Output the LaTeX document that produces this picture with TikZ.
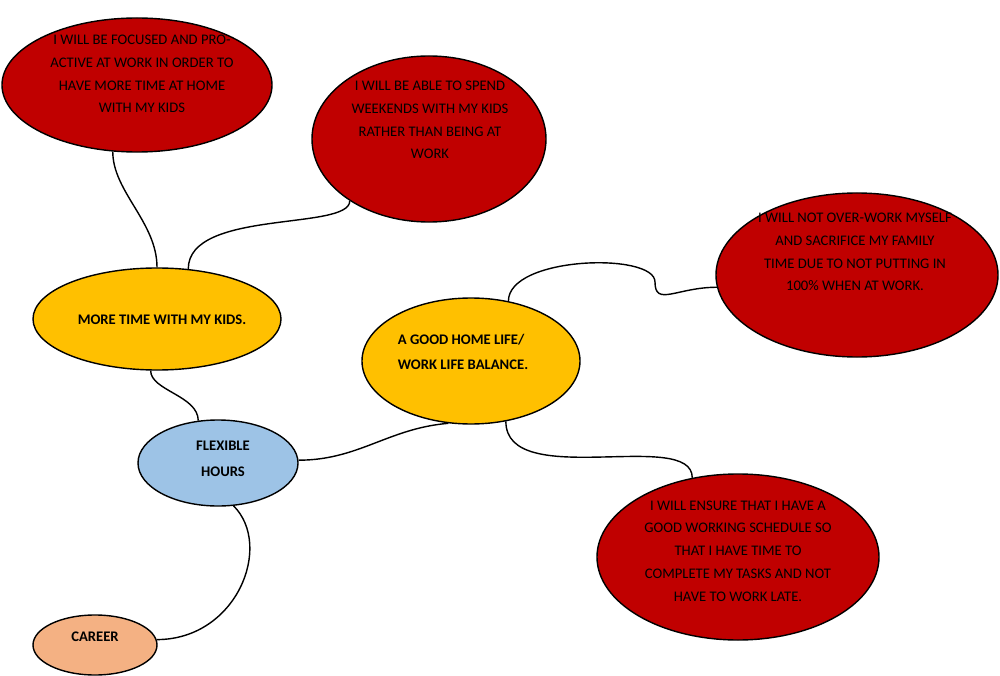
\documentclass[tikz,border=0pt]{standalone}
\usepackage{fontspec}
\setmainfont{Carlito}
\usetikzlibrary{shapes.geometric}
\definecolor{cred}{HTML}{C00000}
\definecolor{cyel}{HTML}{FFC000}
\definecolor{cblue}{HTML}{9DC3E6}
\definecolor{corg}{HTML}{F4B183}
\begin{document}
\begin{tikzpicture}[x=0.03cm,y=-0.03cm,
  bub/.style={ellipse,draw=black,line width=1.2pt,inner sep=0pt},
  txt/.style={align=center,font=\fontsize{12.5}{19.5}\selectfont},
  btxt/.style={align=center,font=\bfseries\fontsize{12.5}{22}\selectfont},
  link/.style={line width=1.2pt}]
\useasboundingbox (0,0) rectangle (1000,676);
\node[bub,fill=cred,minimum width=270\pgflinewidth/1.2pt*0+8.1cm,minimum height=4.02cm] (e1) at (137,85) {};
\node[bub,fill=cred,minimum width=7.02cm,minimum height=4.98cm] (e2) at (429,139) {};
\node[bub,fill=cred,minimum width=8.46cm,minimum height=4.92cm] (e3) at (857,275) {};
\node[bub,fill=cred,minimum width=8.46cm,minimum height=4.98cm] (e4) at (738,557) {};
\node[bub,fill=cyel,minimum width=7.44cm,minimum height=3.06cm] (y1) at (157,319) {};
\node[bub,fill=cyel,minimum width=6.54cm,minimum height=3.78cm] (y2) at (471,361) {};
\node[bub,fill=cblue,minimum width=4.8cm,minimum height=2.58cm] (b) at (218,463) {};
\node[bub,fill=corg,minimum width=3.72cm,minimum height=1.8cm] (c) at (95,645) {};

\node[txt] (t1) at (142,74) {I WILL BE FOCUSED AND PRO-\\ACTIVE AT WORK IN ORDER TO\\HAVE MORE TIME AT HOME\\WITH MY KIDS};
\node[txt] (t2) at (430,120) {I WILL BE ABLE TO SPEND\\WEEKENDS WITH MY KIDS\\RATHER THAN BEING AT\\WORK};
\node[txt] (t3) at (855,252) {I WILL NOT OVER-WORK MYSELF\\AND SACRIFICE MY FAMILY\\TIME DUE TO NOT PUTTING IN\\100\% WHEN AT WORK.};
\node[txt] (t4) at (738,551) {I WILL ENSURE THAT I HAVE A\\GOOD WORKING SCHEDULE SO\\THAT I HAVE TIME TO\\COMPLETE MY TASKS AND NOT\\HAVE TO WORK LATE.};
\node[btxt] (ty1) at (162,320) {MORE TIME WITH MY KIDS.};
\node[btxt,align=left] (ty2) at (463,352) {A GOOD HOME LIFE/\\WORK LIFE BALANCE.};
\node[btxt] (tb) at (223,459) {FLEXIBLE\\HOURS};
\node[btxt] (tc) at (95,637) {CAREER};

\draw[link] (e1.250) .. controls +(0,40) and +(0,-45) .. (y1.90);
\draw[link] (y1.58) .. controls +(0,-60) and +(0,30) .. (e2.218);
\draw[link] (y1.263) .. controls +(0,20) and +(0,-25) .. (b.115);
\draw[link] (b.2) .. controls +(60,0) and +(-60,5) .. (y2.250);
\draw[link] (b.290) .. controls +(40,40) and +(80,0) .. (c.5);
\draw[link] (y2.58) .. controls +(0,-45) and +(0,-30) .. (655,282) .. controls +(0,25) and +(-40,0) .. (e3.185);
\draw[link] (y2.300) .. controls +(0,70) and +(0,-50) .. (e4.120);
\end{tikzpicture}
\end{document}
